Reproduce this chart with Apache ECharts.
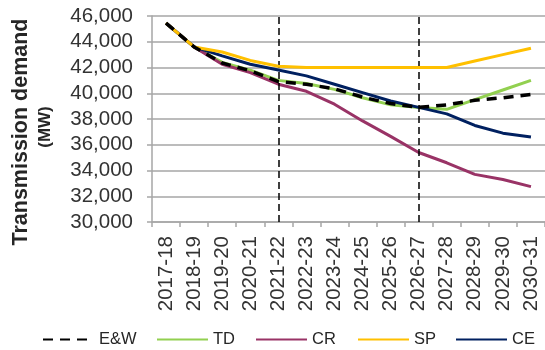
<!DOCTYPE html>
<html>
<head>
<meta charset="utf-8">
<script src="https://cdn.jsdelivr.net/npm/echarts@6/dist/echarts.min.js"></script>
<style>
  html, body { margin: 0; padding: 0; background: #ffffff; }
  #chart { width: 545px; height: 350px; }
</style>
</head>
<body>
<div id="chart"></div>
<script>
// Financial years on the category axis
const years = ['2017-18', '2018-19', '2019-20', '2020-21', '2021-22', '2022-23', '2023-24',
  '2024-25', '2025-26', '2026-27', '2027-28', '2028-29', '2029-30', '2030-31'];

// Transmission demand (MW) by scenario
const ewValues = [45450, 43600, 42350, 41750, 40900, 40700, 40350, 39700, 39200, 38900, 39100, 39450, 39650, 39900];
const tdValues = [45450, 43600, 42400, 41800, 41000, 40750, 40300, 39650, 39100, 38900, 38750, 39500, 40250, 41000];
const crValues = [45450, 43600, 42250, 41600, 40700, 40150, 39150, 37850, 36650, 35400, 34600, 33700, 33300, 32750];
const spValues = [45450, 43600, 43200, 42550, 42100, 42000, 42000, 42000, 42000, 42000, 42000, 42500, 43000, 43500];
const ceValues = [45450, 43600, 42900, 42250, 41800, 41350, 40700, 40050, 39400, 38900, 38400, 37500, 36900, 36600];

// Legend entries, in the order they are shown
const legendNames = ['E&W', 'TD', 'CR', 'SP', 'CE'];

// Years marked with a vertical dashed line
const markedYears = ['2021-22', '2026-27'];

// Value axis range and step
const yMin = 30000;
const yMax = 46000;
const yStep = 2000;

const gray = '#A6A6A6';
const font = '"Liberation Sans", Arial, sans-serif';
const legendLeft = [42, 156, 255, 357, 455];

function lineSeries(name, data, color, z, extra) {
  return Object.assign({
    name: name,
    type: 'line',
    data: data,
    symbol: 'none',
    showSymbol: false,
    z: z,
    lineStyle: { color: color, width: 3 },
    itemStyle: { color: color },
    emphasis: { disabled: true },
    animation: false
  }, extra || {});
}

const chart = echarts.init(document.getElementById('chart'), null, { renderer: 'canvas' });

chart.setOption({
  animation: false,
  backgroundColor: '#ffffff',
  grid: { left: 152, right: 0, top: 16, bottom: 128, containLabel: false },
  // one legend block per entry so each sits at its own spot along the bottom
  legend: legendNames.map(function (name, i) {
    return {
      left: legendLeft[i],
      top: 331,
      padding: 0,
      itemWidth: 51,
      itemHeight: 16,
      itemStyle: { opacity: 0 },
      textStyle: { fontFamily: font, fontSize: 16.5, color: '#262626' },
      data: [name]
    };
  }),
  // rotated two-line value axis title
  graphic: [
    {
      type: 'text',
      x: 21,
      y: 132,
      rotation: Math.PI / 2,
      style: {
        text: 'Transmission demand',
        fontFamily: font,
        fontSize: 21.5,
        fontWeight: 'bold',
        fill: '#262626',
        align: 'center',
        verticalAlign: 'middle'
      }
    },
    {
      type: 'text',
      x: 45,
      y: 127,
      rotation: Math.PI / 2,
      style: {
        text: '(MW)',
        fontFamily: font,
        fontSize: 17,
        fontWeight: 'bold',
        fill: '#262626',
        align: 'center',
        verticalAlign: 'middle'
      }
    }
  ],
  xAxis: {
    type: 'category',
    data: years,
    boundaryGap: true,
    axisLine: { show: true, lineStyle: { color: gray, width: 1.5 } },
    axisTick: { show: true, length: 5, lineStyle: { color: gray, width: 1.5 } },
    axisLabel: {
      rotate: 90,
      interval: 0,
      margin: 14,
      fontFamily: font,
      fontSize: 20.5,
      color: '#333333'
    },
    splitLine: { show: false }
  },
  yAxis: {
    type: 'value',
    min: yMin,
    max: yMax,
    interval: yStep,
    axisLine: { show: true, lineStyle: { color: gray, width: 1.5 } },
    axisTick: { show: true, length: 5, lineStyle: { color: gray, width: 1.5 } },
    axisLabel: {
      margin: 19,
      fontFamily: font,
      fontSize: 20.5,
      color: '#333333',
      formatter: function (v) { return v.toLocaleString('en-US'); }
    },
    splitLine: { show: true, lineStyle: { color: gray, width: 1.5 } }
  },
  series: [
    lineSeries('TD', tdValues, '#92D050', 2),
    lineSeries('CR', crValues, '#993366', 3),
    lineSeries('CE', ceValues, '#002060', 4),
    lineSeries('SP', spValues, '#FFC000', 5),
    lineSeries('E&W', ewValues, '#000000', 6, {
      lineStyle: { color: '#000000', width: 3.5, type: [10, 7] },
      markLine: {
        silent: true,
        symbol: ['none', 'none'],
        label: { show: false },
        lineStyle: { color: '#000000', width: 1.5, type: [7, 4] },
        data: markedYears.map(function (y) { return { xAxis: y }; })
      }
    })
  ]
});
</script>
</body>
</html>
